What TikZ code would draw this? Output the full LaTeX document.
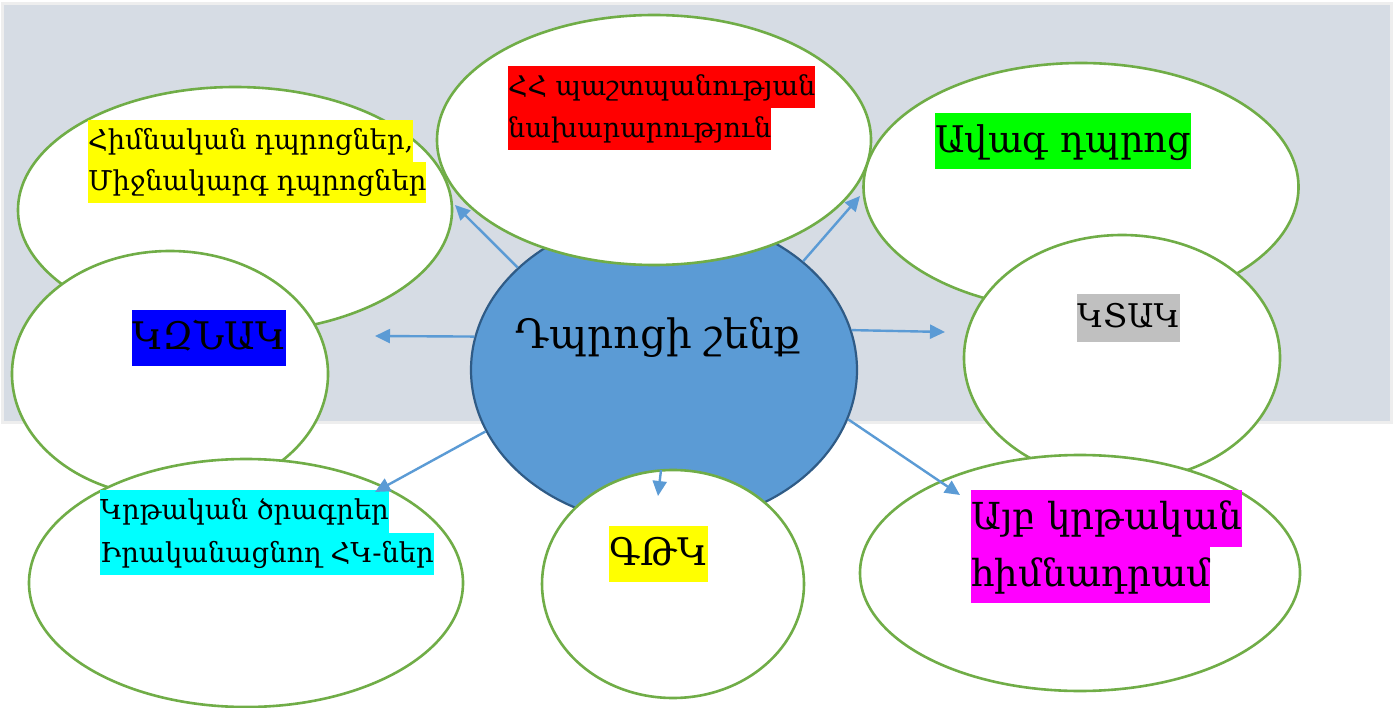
\documentclass[tikz,border=0pt]{standalone}
\usepackage{fontspec}
\setmainfont{DejaVu Serif}
\usetikzlibrary{arrows.meta,shapes.geometric}
\usepackage{xcolor}

\definecolor{panelgray}{HTML}{D6DCE4}
\definecolor{framegray}{HTML}{EEEEEE}
\definecolor{ringgreen}{HTML}{70AD47}
\definecolor{hubblue}{HTML}{5B9BD5}
\definecolor{hubedge}{HTML}{2F5B86}
\definecolor{tagyellow}{HTML}{FFFF00}
\definecolor{tagred}{HTML}{FF0000}
\definecolor{taggreen}{HTML}{00FF00}
\definecolor{tagblue}{HTML}{0000FF}
\definecolor{taggray}{HTML}{C0C0C0}
\definecolor{tagcyan}{HTML}{00FFFF}
\definecolor{tagmagenta}{HTML}{FF00FF}

% highlighted line of text
\newcommand{\tagline}[2]{{\setlength{\fboxsep}{0pt}\colorbox{#1}{\strut #2}}}

\tikzset{
  ring/.style={draw=ringgreen, line width=2.6pt, fill=white, ellipse},
  tag/.style={anchor=north west, inner sep=0pt, align=left},
  link/.style={draw=hubblue, line width=2.4pt, -{Triangle[length=15pt,width=14pt]}}
}

\begin{document}
\begin{tikzpicture}[x=1pt, y=-1pt]
            \useasboundingbox (0,0) rectangle (1397,708);
            % Background
            \fill[white] (0,0) rectangle (1397,708);
            \draw[framegray, line width=3pt, fill=panelgray] (2,4) rectangle (1391,422);

            % Outer ellipses
            \node[ring, minimum width=434pt, minimum height=246pt] (basic) at (235,210) {};
            \node[ring, minimum width=435pt, minimum height=248pt] (senior) at (1081,187) {};
            \node[ring, minimum width=316pt, minimum height=246pt] (kznak) at (170,374) {};
            \node[ring, minimum width=316pt, minimum height=246pt] (ktak) at (1122,358) {};

            % Hub
            \node[draw=hubedge, line width=2.2pt, fill=hubblue, ellipse, minimum width=386pt, minimum height=310pt] (hub) at (664,370) {};
            \node[ring, minimum width=434pt, minimum height=250pt] (defense) at (654,140) {};
            \node[ring, minimum width=434pt, minimum height=248pt] (programs) at (246,583) {};
            \node[ring, minimum width=262pt, minimum height=228pt] (gtk) at (673,584) {};
            \node[ring, minimum width=440pt, minimum height=236pt] (ayb) at (1080,573) {};

            % Texts
            \node[font=\fontsize{40.5}{48}\selectfont] (hubtxt) at (658,337) {Դպրոցի շենք};
            \node[tag, font=\fontsize{27.3}{41.5}\selectfont] (basictxt) at (88,120)
              {\tagline{tagyellow}{Հիմնական դպրոցներ,}\\\tagline{tagyellow}{Միջնակարգ դպրոցներ}};
            \node[tag, font=\fontsize{27}{42}\selectfont] (defensetxt) at (508,66)
              {\tagline{tagred}{ՀՀ պաշտպանության}\\\tagline{tagred}{նախարարություն}};
            \node[tag, font=\fontsize{36.7}{56}\selectfont] (seniortxt) at (935,113)
              {\tagline{taggreen}{Ավագ դպրոց}};
            \node[tag, font=\fontsize{38}{56}\selectfont] (kznaktxt) at (132,310)
              {\tagline{tagblue}{ԿԶՆԱԿ}};
            \node[tag, font=\fontsize{32.6}{48}\selectfont] (ktaktxt) at (1077,294)
              {\tagline{taggray}{ԿՏԱԿ}};
            \node[tag, font=\fontsize{27.4}{42.5}\selectfont] (programstxt) at (100,490)
              {\tagline{tagcyan}{Կրթական ծրագրեր}\\\tagline{tagcyan}{Իրականացնող ՀԿ-ներ}};
            \node[tag, font=\fontsize{38}{56}\selectfont] (gtktxt) at (609,526)
              {\tagline{tagyellow}{ԳԹԿ}};
            \node[tag, font=\fontsize{37.2}{56.5}\selectfont] (aybtxt) at (971,490)
              {\tagline{tagmagenta}{Այբ կրթական}\\\tagline{tagmagenta}{հիմնադրամ}};

            % Arrow ends
            \coordinate (basicend) at (455,205);
            \coordinate (seniorend) at (860,196);
            \coordinate (kznakend) at (375,336);
            \coordinate (ktakend) at (945,332);
            \coordinate (programsend) at (375,492);
            \coordinate (gtkstart) at (661,470);
            \coordinate (gtkend) at (658,496);
            \coordinate (aybend) at (960,495);

            % Arrows
            \draw[link] (hub.145) -- (basicend);
            \draw[link] (hub.38) -- (seniorend);
            \draw[link] (hub.170) -- (kznakend);
            \draw[link] (hub.12) -- (ktakend);
            \draw[link] (hub.199) -- (programsend);
            \draw[link] (gtkstart) -- (gtkend);
            \draw[link] (hub.345) -- (aybend);
        \end{tikzpicture}
\end{document}
